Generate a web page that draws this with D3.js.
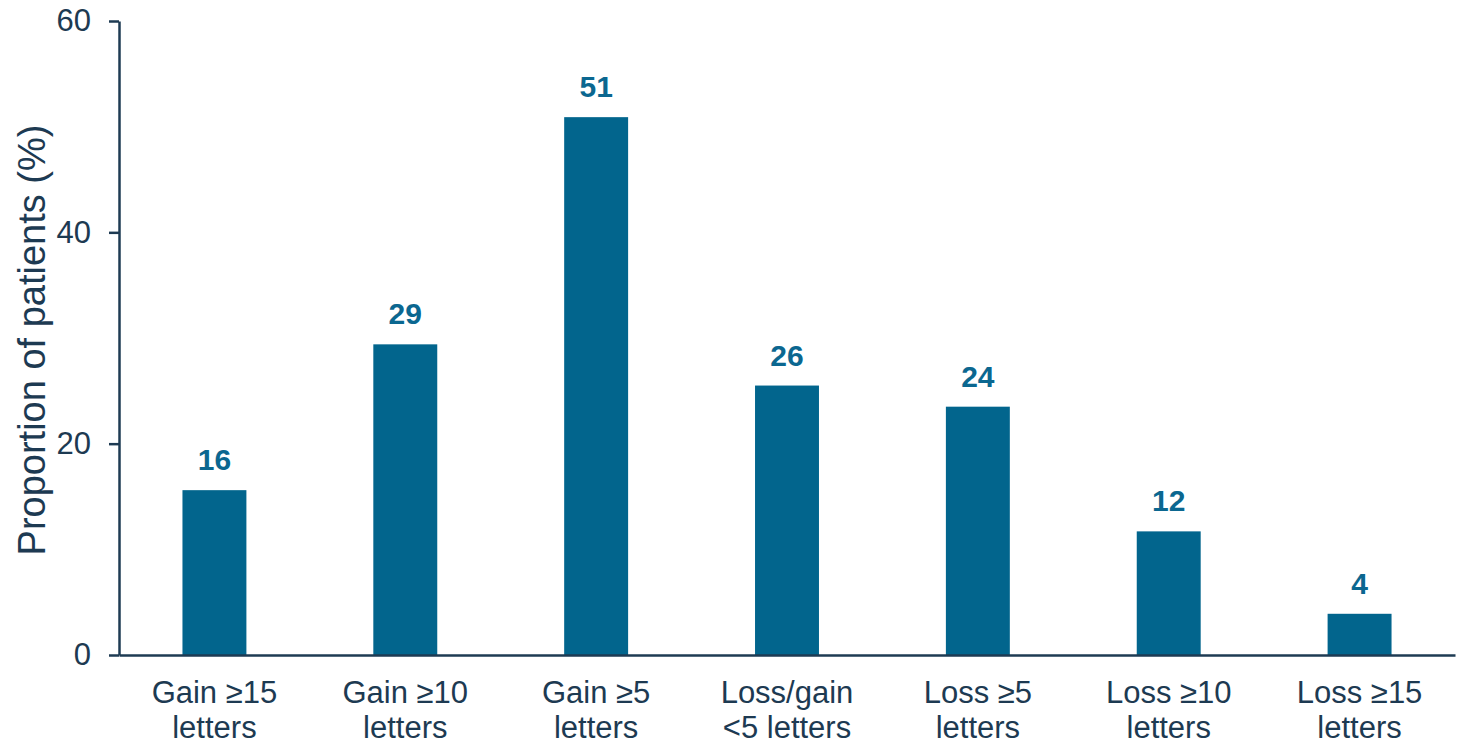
<!DOCTYPE html>
<html>
<head>
<meta charset="utf-8">
<script src="https://cdn.jsdelivr.net/npm/d3@7"></script>
<style>
  html, body { margin: 0; padding: 0; background: #fff; }
  svg { display: block; font-family: "Liberation Sans", Arial, sans-serif; }
</style>
</head>
<body>
<svg id="chart" width="1463" height="745"></svg>
<script>
// Visual-acuity outcome categories (two-line axis labels)
const categories = [
  "Gain ≥15 letters",
  "Gain ≥10 letters",
  "Gain ≥5 letters",
  "Loss/gain <5 letters",
  "Loss ≥5 letters",
  "Loss ≥10 letters",
  "Loss ≥15 letters"
];
const categoryLines = [
  ["Gain ≥15", "letters"],
  ["Gain ≥10", "letters"],
  ["Gain ≥5", "letters"],
  ["Loss/gain", "<5 letters"],
  ["Loss ≥5", "letters"],
  ["Loss ≥10", "letters"],
  ["Loss ≥15", "letters"]
];
// Proportion of patients (%) per category
const values = [15.6, 29.4, 50.9, 25.5, 23.5, 11.7, 3.9];
const yTicks = [0, 20, 40, 60];

const svg = d3.select("#chart");
const margin = { left: 119, right: 8, top: 21, bottom: 90 };
const width = 1463, height = 745;

const barColor = "#02658d";
const axisColor = "#1e3b53";
const textColor = "#1d3a52";
const labelColor = "#0b6790";

const x = d3.scaleBand()
  .domain(categories)
  .range([margin.left, width - margin.right])
  .paddingInner(0.665)
  .paddingOuter(0.3325);

const y = d3.scaleLinear()
  .domain([0, 60])
  .range([height - margin.bottom, margin.top]);

// Bars
svg.append("g")
  .selectAll("rect")
  .data(values)
  .join("rect")
  .attr("x", (d, i) => x(categories[i]))
  .attr("y", d => y(d))
  .attr("width", x.bandwidth())
  .attr("height", d => y(0) - y(d))
  .attr("fill", barColor);

// Value labels above bars
const fmt = d3.format(".0f");
svg.append("g")
  .selectAll("text")
  .data(values)
  .join("text")
  .attr("x", (d, i) => x(categories[i]) + x.bandwidth() / 2)
  .attr("y", d => y(d) - 20)
  .attr("text-anchor", "middle")
  .attr("font-size", 30)
  .attr("font-weight", "bold")
  .attr("fill", labelColor)
  .text(d => fmt(d));

// Y axis
const yAxis = svg.append("g")
  .attr("transform", `translate(${margin.left},0)`)
  .call(d3.axisLeft(y).tickValues(yTicks).tickSize(10).tickSizeOuter(0).tickPadding(18));
yAxis.select(".domain").attr("stroke", axisColor).attr("stroke-width", 2.5);
yAxis.selectAll(".tick line").attr("stroke", axisColor).attr("stroke-width", 2.5);
yAxis.selectAll(".tick text")
  .attr("font-size", 31)
  .attr("fill", textColor)
  .attr("font-family", "Liberation Sans, Arial, sans-serif");

// X axis
const xAxis = svg.append("g")
  .attr("transform", `translate(0,${y(0)})`)
  .call(d3.axisBottom(x).tickSize(0).tickSizeOuter(0).tickFormat(""));
xAxis.select(".domain").attr("stroke", axisColor).attr("stroke-width", 2.5);
xAxis.selectAll(".tick text").remove();

// Two-line category labels
const catLabels = xAxis.selectAll(".tick")
  .append("text")
  .attr("text-anchor", "middle")
  .attr("font-size", 31)
  .attr("fill", textColor)
  .attr("font-family", "Liberation Sans, Arial, sans-serif");
catLabels.each(function(d) {
  const lines = categoryLines[categories.indexOf(d)];
  const t = d3.select(this);
  lines.forEach((ln, k) => {
    t.append("tspan")
      .attr("x", 0)
      .attr("y", 48 + k * 35)
      .text(ln);
  });
});

// Y axis title
svg.append("text")
  .attr("transform", `translate(45,340) rotate(-90)`)
  .attr("text-anchor", "middle")
  .attr("font-size", 38)
  .attr("fill", textColor)
  .text("Proportion of patients (%)");
</script>
</body>
</html>
